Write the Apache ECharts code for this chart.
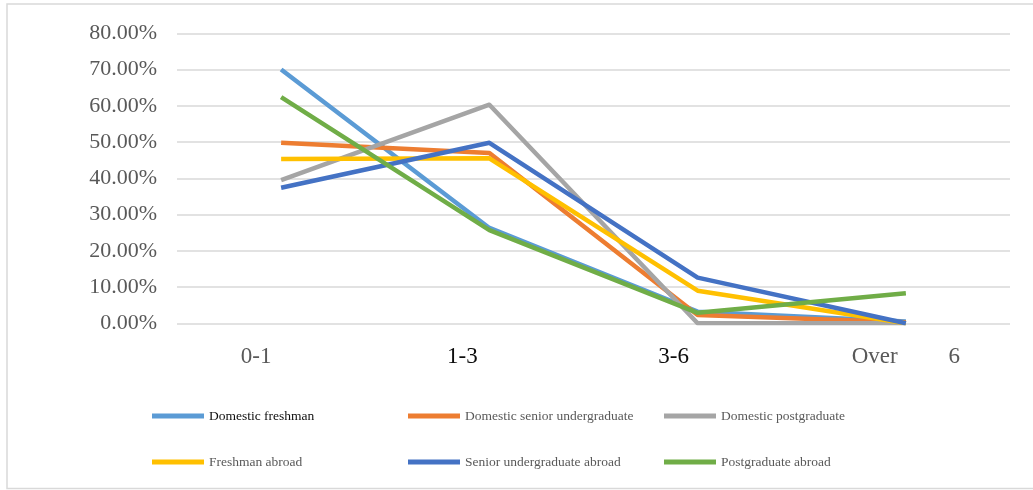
<!DOCTYPE html>
<html>
<head>
<meta charset="utf-8">
<script src="https://cdn.jsdelivr.net/npm/echarts@6/dist/echarts.min.js"></script>
<style>
  html, body { margin: 0; padding: 0; background: #fff; }
  #chart { width: 1033px; height: 490px; }
</style>
</head>
<body>
<div id="chart"></div>
<script>
// Years-range categories along the x axis
const categories = ['0-1', '1-3', '3-6', 'Over 6'];

// Share of respondents per group (fractions)
const domesticFreshman = [0.700, 0.263, 0.032, 0.005];
const domesticSenior = [0.498, 0.470, 0.023, 0.003];
const domesticPostgraduate = [0.395, 0.603, 0.000, 0.000];
const freshmanAbroad = [0.453, 0.455, 0.090, 0.000];
const seniorAbroad = [0.374, 0.498, 0.126, 0.000];
const postgraduateAbroad = [0.624, 0.257, 0.029, 0.083];

const seriesNames = [
  'Domestic freshman', 'Domestic senior undergraduate', 'Domestic postgraduate',
  'Freshman abroad', 'Senior undergraduate abroad', 'Postgraduate abroad'
];
const seriesData = [
  domesticFreshman, domesticSenior, domesticPostgraduate,
  freshmanAbroad, seniorAbroad, postgraduateAbroad
];
const colors = ['#5B9BD5', '#ED7D31', '#A5A5A5', '#FFC000', '#4472C4', '#70AD47'];

const serif = '"Liberation Serif", "Times New Roman", serif';

const chart = echarts.init(document.getElementById('chart'), null, { renderer: 'canvas' });

function legendBlock(left, names) {
  return {
    orient: 'vertical',
    left: left,
    top: 403,
    icon: 'rect',
    itemWidth: 52,
    itemHeight: 5,
    itemGap: 30,
    selectedMode: false,
    textStyle: { fontFamily: serif, fontSize: 13.5, color: '#595959', lineHeight: 16 },
    data: names.map(n => n === 'Domestic freshman'
      ? { name: n, textStyle: { color: '#0d0d0d' } }
      : { name: n })
  };
}

const option = {
  animation: false,
  color: colors,
  graphic: [{
    type: 'rect',
    shape: { x: 7, y: 4, width: 1040, height: 484.5 },
    style: { fill: 'none', stroke: '#D9D9D9', lineWidth: 1.5 },
    silent: true
  }],
  grid: { left: 177, right: 23, top: 33.3, bottom: 166.7 },
  legend: [
    legendBlock(147, [seriesNames[0], seriesNames[3]]),
    legendBlock(403, [seriesNames[1], seriesNames[4]]),
    legendBlock(659, [seriesNames[2], seriesNames[5]])
  ],
  xAxis: {
    type: 'category',
    data: categories,
    boundaryGap: true,
    axisLine: { show: false },
    axisTick: { show: false },
    axisLabel: {
      margin: 21,
      interval: 0,
      formatter: function (value, index) {
        if (value === 'Over 6') {
          const parts = value.split(' ');
          return '{o|' + parts[0] + '}{s|' + parts[1] + '}';
        }
        return '{c' + index + '|' + value + '}';
      },
      rich: {
        c0: { fontFamily: serif, fontSize: 23, color: '#595959', padding: [0, 50, 0, 0], lineHeight: 26 },
        c1: { fontFamily: serif, fontSize: 23, color: '#0d0d0d', padding: [0, 54, 0, 0], lineHeight: 26 },
        c2: { fontFamily: serif, fontSize: 23, color: '#0d0d0d', padding: [0, 48, 0, 0], lineHeight: 26 },
        o: { fontFamily: serif, fontSize: 23, color: '#595959', lineHeight: 26 },
        s: { fontFamily: serif, fontSize: 23, color: '#595959', padding: [0, 0, 0, 51], lineHeight: 26 }
      }
    }
  },
  yAxis: {
    type: 'value',
    min: 0,
    max: 0.8,
    interval: 0.1,
    axisLine: { show: false },
    axisTick: { show: false },
    axisLabel: {
      margin: 20,
      fontFamily: serif,
      fontSize: 22,
      color: '#595959',
      formatter: v => (v * 100).toFixed(2) + '%'
    },
    splitLine: { lineStyle: { color: '#D9D9D9', width: 1.5 } }
  },
  series: seriesNames.map((name, i) => ({
    name: name,
    type: 'line',
    data: seriesData[i],
    symbol: 'none',
    lineStyle: { width: 4.5, color: colors[i], join: 'round' },
    itemStyle: { color: colors[i] }
  }))
};

chart.setOption(option);
</script>
</body>
</html>
